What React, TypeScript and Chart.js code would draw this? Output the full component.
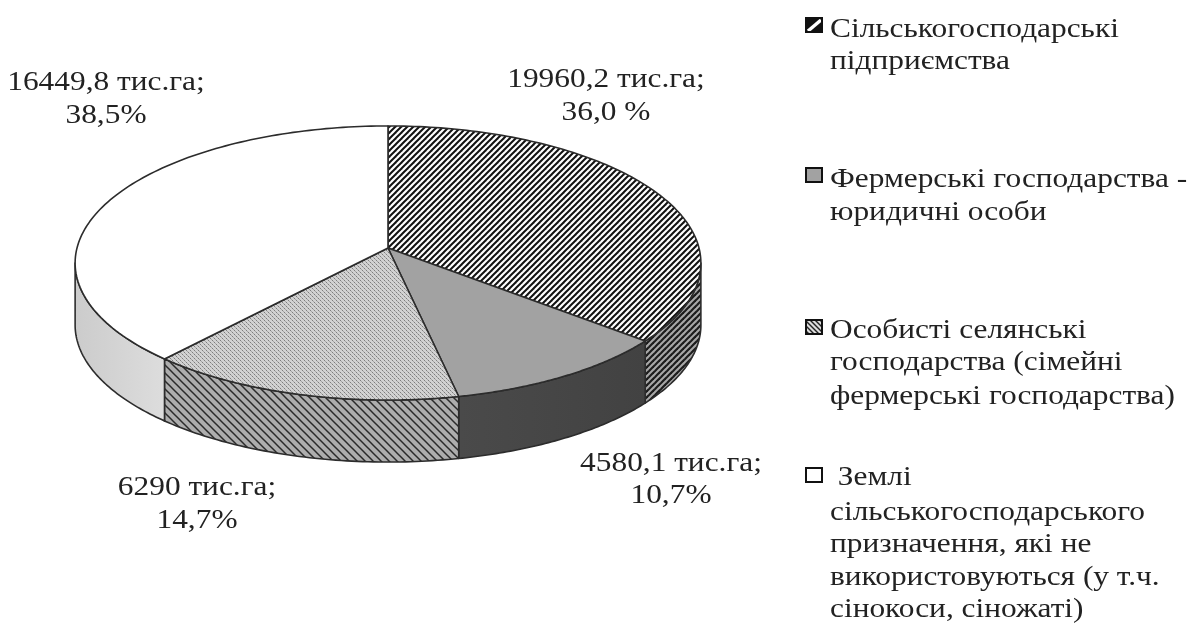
import React, { useEffect, useRef } from "react";
import { Chart, registerables } from "chart.js";

Chart.register(...registerables);

const categories = [
  "Сільськогосподарські підприємства",
  "Фермерські господарства - юридичні особи",
  "Особисті селянські господарства (сімейні фермерські господарства)",
  "Землі сільськогосподарського призначення, які не використовуються (у т.ч. сінокоси, сіножаті)",
];
const shares = [36.0, 10.7, 14.7, 38.5];
const areaLabels = ["19960,2 тис.га;", "4580,1 тис.га;", "6290 тис.га;", "16449,8 тис.га;"];
const shareLabels = ["36,0 %", "10,7%", "14,7%", "38,5%"];
const legendLines = [
  ["Сільськогосподарські", "підприємства"],
  ["Фермерські господарства -", "юридичні особи"],
  ["Особисті селянські", "господарства (сімейні", "фермерські господарства)"],
  [" Землі", "сільськогосподарського", "призначення, які не", "використовуються (у т.ч.", "сінокоси, сіножаті)"],
];

const FONT = '28px "Liberation Serif", serif';
const TEXT = "#222";
const TEXT_STRETCH = 1.12;
const APEX_X = 388, APEX_Y = 248, RX = 311, RY = 135.4, K = 0.1095, DEPTH = 62;

// perspective projection of a point of the unit circle onto the page
function project(angle: number, radius = 1, drop = 0): [number, number] {
  const u = Math.cos(angle) * radius, v = Math.sin(angle) * radius;
  const w = 1 - K * v;
  return [APEX_X + (RX * u) / w, APEX_Y + (RY * v) / w + drop];
}

function stripes(size: number, bg: string, fg: string, width: number, dir: 1 | -1) {
  const c = document.createElement("canvas");
  c.width = c.height = size;
  const x = c.getContext("2d")!;
  x.fillStyle = bg;
  x.fillRect(0, 0, size, size);
  x.strokeStyle = fg;
  x.lineWidth = width;
  for (let i = -1; i <= 1; i++) {
    x.beginPath();
    if (dir === 1) {
      x.moveTo(i * size - 1, size + 1);
      x.lineTo(i * size + size + 1, -1);
    } else {
      x.moveTo(i * size - 1, -1);
      x.lineTo(i * size + size + 1, size + 1);
    }
    x.stroke();
  }
  return x.createPattern(c, "repeat")!;
}

function dots() {
  const c = document.createElement("canvas");
  c.width = c.height = 4;
  const x = c.getContext("2d")!;
  x.fillStyle = "#d2d2d2";
  x.fillRect(0, 0, 4, 4);
  x.fillStyle = "#7e7e7e";
  x.fillRect(0, 0, 1, 1);
  x.fillRect(2, 2, 1, 1);
  x.fillStyle = "#a6a6a6";
  x.fillRect(1, 1, 1, 1);
  x.fillRect(3, 3, 1, 1);
  return x.createPattern(c, "repeat")!;
}

const labelSpots: [number, number, number][] = [
  [606, 87, 120],
  [671, 471, 503],
  [197, 495, 528],
  [106, 90, 123],
];
const legendLayout: { box: number; baselines: number[] }[] = [
  { box: 18, baselines: [37, 69] },
  { box: 168, baselines: [187, 220] },
  { box: 320, baselines: [338, 370, 404] },
  { box: 468, baselines: [485, 520, 552, 585, 617] },
];

function text(ctx: CanvasRenderingContext2D, t: string, x: number, y: number) {
  ctx.save();
  ctx.translate(x, y);
  ctx.scale(TEXT_STRETCH, 1);
  ctx.fillText(t, 0, 0);
  ctx.restore();
}

const pie3d = {
  id: "pie3d",
  beforeDatasetsDraw(chart: any) {
    const ctx: CanvasRenderingContext2D = chart.ctx;
    const arcs = chart.getDatasetMeta(0).data;
    const edge = Math.asin(K);
    const sideFill = [
      stripes(6, "#a8a8a8", "#1c1c1c", 2.2, 1),
      (() => {
        const g = ctx.createLinearGradient(460, 0, 645, 0);
        g.addColorStop(0, "#4a4a4a");
        g.addColorStop(1, "#424242");
        return g;
      })(),
      stripes(8, "#adadad", "#2a2a2a", 1.5, -1),
      (() => {
        const g = ctx.createLinearGradient(77, 0, 165, 0);
        g.addColorStop(0, "#cccccc");
        g.addColorStop(1, "#dddddd");
        return g;
      })(),
    ];
    ctx.save();
    ctx.lineJoin = "round";
    ctx.strokeStyle = "#2c2c2c";
    ctx.lineWidth = 1.6;
    arcs.forEach((arc: any, i: number) => {
      let a0 = arc.startAngle, a1 = arc.endAngle;
      if (a0 > Math.PI - edge) return;
      a0 = Math.max(a0, edge);
      a1 = Math.min(a1, Math.PI - edge);
      if (a1 <= a0) return;
      ctx.beginPath();
      const n = 60;
      for (let s = 0; s <= n; s++) {
        const p = project(a0 + ((a1 - a0) * s) / n);
        s ? ctx.lineTo(p[0], p[1]) : ctx.moveTo(p[0], p[1]);
      }
      for (let s = n; s >= 0; s--) {
        const p = project(a0 + ((a1 - a0) * s) / n, 1, DEPTH);
        ctx.lineTo(p[0], p[1]);
      }
      ctx.closePath();
      ctx.fillStyle = sideFill[i];
      ctx.fill();
      ctx.stroke();
    });
    arcs.forEach((arc: any) => {
      ctx.beginPath();
      ctx.moveTo(APEX_X, APEX_Y);
      const n = 120;
      for (let s = 0; s <= n; s++) {
        const p = project(arc.startAngle + ((arc.endAngle - arc.startAngle) * s) / n);
        ctx.lineTo(p[0], p[1]);
      }
      ctx.closePath();
      ctx.fillStyle = arc.options.backgroundColor;
      ctx.fill();
      ctx.stroke();
    });
    ctx.restore();
    return false;
  },
  afterDraw(chart: any) {
    const ctx: CanvasRenderingContext2D = chart.ctx;
    const colors = chart.data.datasets[0].backgroundColor;
    ctx.save();
    ctx.font = FONT;
    ctx.fillStyle = TEXT;
    ctx.textBaseline = "alphabetic";
    ctx.textAlign = "center";
    areaLabels.forEach((t, i) => {
      const [x, y1, y2] = labelSpots[i];
      text(ctx, t, x, y1);
      text(ctx, shareLabels[i], x, y2);
    });
    ctx.textAlign = "left";
    legendLines.forEach((lines, i) => {
      const { box, baselines } = legendLayout[i];
      ctx.fillStyle = i === 2 ? stripes(5, "#ddd", "#222", 1.4, -1) : i === 0 ? "#111" : colors[i];
      ctx.fillRect(806, box, 16, 14);
      if (i === 0) {
        ctx.strokeStyle = "#fff";
        ctx.lineWidth = 3.5;
        ctx.beginPath();
        ctx.moveTo(808, box + 13);
        ctx.lineTo(821, box + 2);
        ctx.stroke();
      }
      ctx.strokeStyle = "#111";
      ctx.lineWidth = 2;
      ctx.strokeRect(806, box, 16, 14);
      ctx.fillStyle = TEXT;
      lines.forEach((t, j) => text(ctx, t, 830, baselines[j]));
    });
    ctx.restore();
  },
};

export default function App() {
  const ref = useRef<HTMLCanvasElement>(null);
  useEffect(() => {
    document.body.style.margin = "0";
    const chart = new Chart(ref.current!, {
      type: "pie",
      data: {
        labels: categories,
        datasets: [
          {
            data: shares,
            backgroundColor: [stripes(6, "#ffffff", "#111111", 2.0, 1), "#a2a2a2", dots(), "#ffffff"],
            borderWidth: 0,
          },
        ],
      },
      options: {
        animation: false,
        responsive: false,
        events: [],
        plugins: { legend: { display: false }, tooltip: { enabled: false } },
      },
      plugins: [pie3d],
    } as any);
    return () => chart.destroy();
  }, []);
  return (
    <canvas
      ref={ref}
      width={1195}
      height={623}
      style={{ display: "block", background: "#fff", filter: "blur(0.6px)" }}
    />
  );
}
